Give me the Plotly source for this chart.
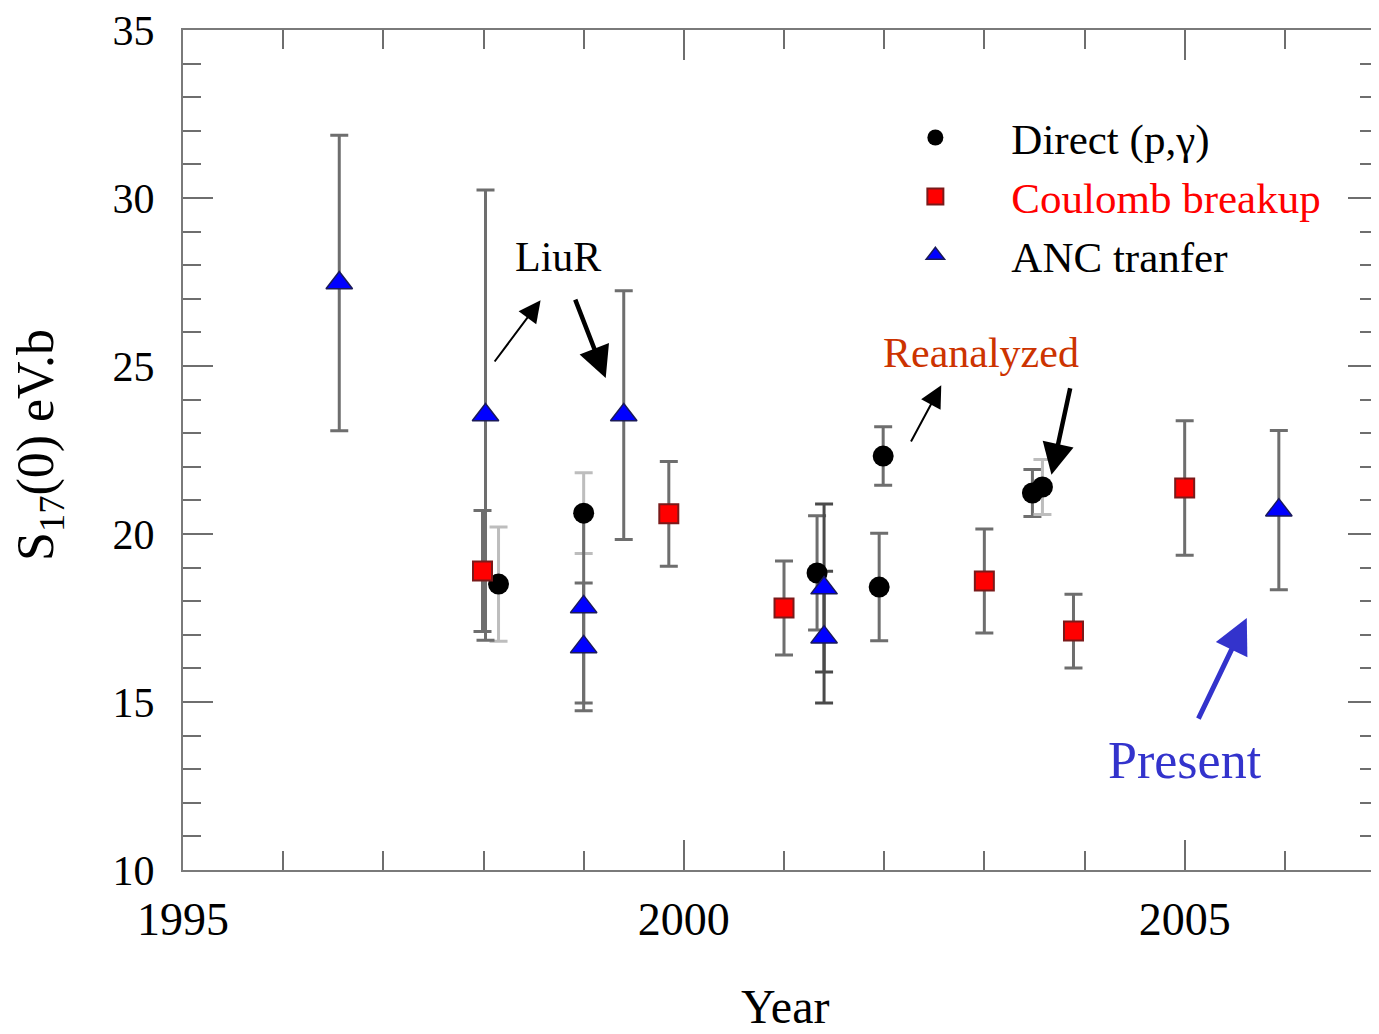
import plotly.graph_objects as go

# ---- data ----
direct_year = [1998.15, 1999.0, 2001.33, 2001.99, 2001.95, 2003.48, 2003.58]
direct_s17 = [18.51, 20.62, 18.84, 22.32, 18.42, 21.22, 21.40]
direct_err = [1.70, 1.20, 1.70, 0.87, 1.60, 0.70, 0.82]
direct_errcol = ["light", "light", "dark", "dark", "dark", "dark", "light"]

coul_year = [1997.99, 1999.85, 2001.0, 2003.0, 2003.89, 2005.0]
coul_s17 = [18.90, 20.60, 17.80, 18.60, 17.11, 21.37]
coul_err = [1.80, 1.56, 1.40, 1.55, 1.10, 2.00]
coul_errcol = ["dark", "dark", "dark", "dark", "dark", "dark"]

anc_year = [1996.56, 1998.02, 1999.0, 1999.0, 1999.40, 2001.40, 2001.40, 2005.94]
anc_s17 = [27.47, 23.54, 17.83, 16.64, 23.54, 18.39, 16.93, 20.71]
anc_err = [4.40, 6.70, 2.86, 1.90, 3.70, 2.50, 1.96, 2.37]
anc_errcol = ["dark", "dark", "dark", "dark", "dark", "darker", "darker", "dark"]

series_names = ["Direct (p,γ)", "Coulomb breakup", "ANC tranfer"]
x_ticks = [1995, 2000, 2005]
y_ticks = [10, 15, 20, 25, 30, 35]

FONT = "Liberation Serif"
ERRC = {"light": "#bdbdbd", "dark": "#6e6e6e", "darker": "#4a4a4a"}

fig = go.Figure()

def add_errbars(xs, ys, es, cols):
    for x, y, e, c in zip(xs, ys, es, cols):
        fig.add_trace(go.Scatter(
            x=[x], y=[y], mode="markers",
            marker=dict(size=1, opacity=0),
            error_y=dict(type="data", array=[e], visible=True,
                         color=ERRC[c], thickness=3, width=9),
            showlegend=False, hoverinfo="skip"))

add_errbars(direct_year, direct_s17, direct_err, direct_errcol)
add_errbars(coul_year, coul_s17, coul_err, coul_errcol)
add_errbars(anc_year, anc_s17, anc_err, anc_errcol)

fig.add_trace(go.Scatter(
    x=direct_year, y=direct_s17, mode="markers", name=series_names[0],
    marker=dict(symbol="circle", size=21, color="black",
                line=dict(color="black", width=0))))
fig.add_trace(go.Scatter(
    x=coul_year, y=coul_s17, mode="markers",
    name="<span style='color:#ff0000'>" + series_names[1] + "</span>",
    marker=dict(symbol="square", size=19, color="#ff0000",
                line=dict(color="#7a1a1a", width=2))))
fig.add_trace(go.Scatter(
    x=anc_year, y=anc_s17, mode="markers", name=series_names[2],
    marker=dict(symbol="triangle-up", size=23, color="#0000ff",
                line=dict(color="#1a1a5a", width=1.5))))

axis_common = dict(
    showline=True, linecolor="#7a7a7a", linewidth=2, mirror="ticks",
    ticks="inside", tickcolor="#6e6e6e", tickwidth=2, ticklen=30,
    showgrid=False, zeroline=False, ticklabeloverflow="allow",
)

fig.update_xaxes(range=[1995, 2006.93], tickvals=x_ticks,
                 ticklabelstandoff=8,
                 tickfont=dict(family=FONT, size=46, color="black"),
                 minor=dict(dtick=1, ticks="inside", ticklen=19,
                            tickcolor="#6e6e6e", tickwidth=2, showgrid=False),
                 **axis_common)
fig.update_yaxes(range=[10, 35], tickvals=y_ticks,
                 ticklabelstandoff=18,
                 tickfont=dict(family=FONT, size=42, color="black"),
                 minor=dict(dtick=1, ticks="inside", ticklen=18,
                            tickcolor="#6e6e6e", tickwidth=2, showgrid=False),
                 **axis_common)

annotations = [
    # axis titles
    dict(text="Year", xref="paper", yref="paper", x=0.504, y=-0.162,
         xanchor="center", yanchor="middle",
         showarrow=False, font=dict(family=FONT, size=48, color="black")),
    dict(text="S<sub>17</sub>(0) eV.b", xref="paper", yref="paper",
         x=-0.1197, y=0.506, xanchor="center", yanchor="middle",
         textangle=-90, showarrow=False,
         font=dict(family=FONT, size=52, color="black")),
    # text labels
    dict(text="LiuR", x=1998.74, y=28.24, showarrow=False,
         font=dict(family=FONT, size=42, color="black")),
    dict(text="Reanalyzed", x=2002.97, y=25.39, showarrow=False,
         font=dict(family=FONT, size=42, color="#cc3300")),
    dict(text="Present", x=2005.0, y=13.27, showarrow=False,
         font=dict(family=FONT, size=52, color="#3333cc")),
    # arrows
    dict(x=1998.57, y=26.96, ax=1998.10, ay=25.09, axref="x", ayref="y",
         text="", showarrow=True, arrowhead=2, arrowsize=2.2, arrowwidth=2,
         arrowcolor="black", standoff=0, startstandoff=0),
    dict(x=1999.22, y=24.64, ax=1998.91, ay=27.02, axref="x", ayref="y",
         text="", showarrow=True, arrowhead=2, arrowsize=1.4, arrowwidth=4.5,
         arrowcolor="black", standoff=0, startstandoff=0),
    dict(x=2002.57, y=24.43, ax=2002.26, ay=22.71, axref="x", ayref="y",
         text="", showarrow=True, arrowhead=2, arrowsize=2.2, arrowwidth=2,
         arrowcolor="black", standoff=0, startstandoff=0),
    dict(x=2003.67, y=21.76, ax=2003.86, ay=24.38, axref="x", ayref="y",
         text="", showarrow=True, arrowhead=2, arrowsize=1.4, arrowwidth=4.5,
         arrowcolor="black", standoff=0, startstandoff=0),
    dict(x=2005.62, y=17.5, ax=2005.13, ay=14.46, axref="x", ayref="y",
         text="", showarrow=True, arrowhead=2, arrowsize=1.4, arrowwidth=5,
         arrowcolor="#3333cc", standoff=0, startstandoff=0),
]

fig.update_layout(
    width=1371, height=1026,
    margin=dict(l=175, r=1, t=22, b=164, pad=0, autoexpand=False),
    paper_bgcolor="white", plot_bgcolor="white",
    font=dict(family=FONT, color="black"),
    annotations=annotations,
    showlegend=True,
    legend=dict(x=0.566, y=0.913, xanchor="left", yanchor="top",
                bgcolor="rgba(0,0,0,0)", itemwidth=142,
                font=dict(family=FONT, size=43, color="black"),
                tracegroupgap=0),
)

fig.write_html("out.html")
